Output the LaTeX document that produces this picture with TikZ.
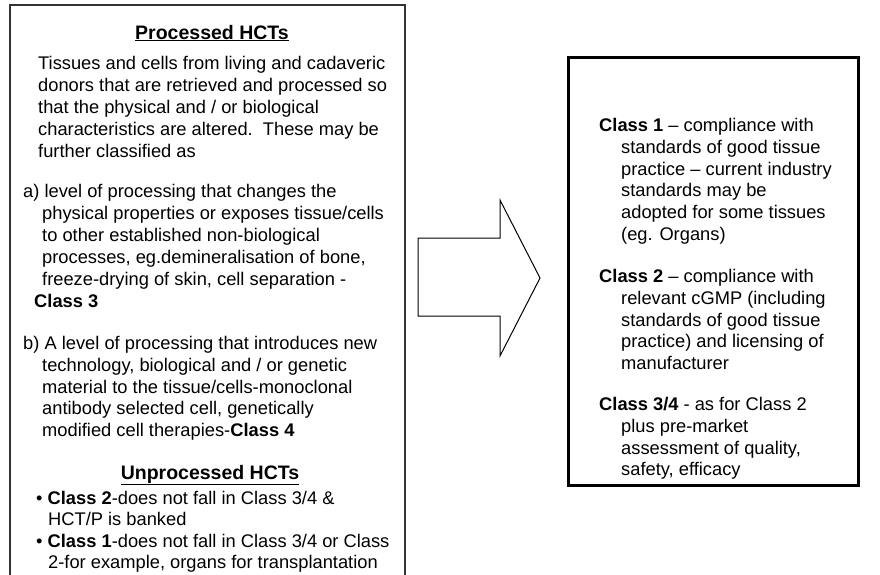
\documentclass[tikz,border=0pt]{standalone}
\usepackage{fontspec}
\setmainfont{Liberation Sans}
\begin{document}
\begin{tikzpicture}[x=1pt,y=-1pt,
  txt/.style={anchor=base west, inner sep=0pt, font=\fontsize{18.3}{22}\selectfont},
  heading/.style={anchor=base, inner sep=0pt, font=\fontsize{19.5}{24}\selectfont\bfseries},
  leftframe/.style={line width=1.2pt, draw=black!80},
  rightframe/.style={line width=3pt, draw=black},
  blockarrow/.style={line width=1pt, draw=black, fill=white, line join=miter}
  ]
\useasboundingbox (0,0) rectangle (880,574);

% left panel: open at the bottom
\draw[leftframe] (10,580) -- (10,5) -- (405,5) -- (405,580);

\node[heading] (h1) at (212,39) {\underline{Processed HCTs}};
\node[txt] (p1) at (38,69)  {Tissues and cells from living and cadaveric};
\node[txt] (p2) at (38,91)  {donors that are retrieved and processed so};
\node[txt] (p3) at (38,113) {that the physical and / or biological};
\node[txt] (p4) at (38,135) {characteristics are altered.\ \ These may be};
\node[txt] (p5) at (38,157) {further classified as};

\node[txt] (a1) at (23,197) {a) level of processing that changes the};
\node[txt] (a2) at (42,219) {physical properties or exposes tissue/cells};
\node[txt] (a3) at (42,241) {to other established non-biological};
\node[txt] (a4) at (42,263) {processes, eg.demineralisation of bone,};
\node[txt] (a5) at (42,285) {freeze-drying of skin, cell separation -};
\node[txt] (a6) at (34,307) {\bfseries Class 3};

\node[txt] (b1) at (23,349) {b) A level of processing that introduces new};
\node[txt] (b2) at (42,371) {technology, biological and / or genetic};
\node[txt] (b3) at (42,393) {material to the tissue/cells-monoclonal};
\node[txt] (b4) at (42,414) {antibody selected cell, genetically};
\node[txt] (b5) at (42,436) {modified cell therapies-\textbf{Class 4}};

\node[heading] (h2) at (210,479) {\underline{Unprocessed HCTs}};
\node[txt] (u1) at (36,504) {•\ \textbf{Class 2}-does not fall in Class 3/4 \&};
\node[txt] (u2) at (48,525) {HCT/P is banked};
\node[txt] (u3) at (36,547) {•\ \textbf{Class 1}-does not fall in Class 3/4 or Class};
\node[txt] (u4) at (48,568) {2-for example, organs for transplantation};

% block arrow between the panels
\draw[blockarrow] (418,238) -- (500,238) -- (500,200) -- (540,278)
  -- (500,356) -- (500,316) -- (418,316) -- cycle;

% right panel
\draw[rightframe] (568,57) rectangle (858,485);

\node[txt] (c1a) at (599,131) {\textbf{Class 1} – compliance with};
\node[txt] (c1b) at (621,153) {standards of good tissue};
\node[txt] (c1c) at (621,175) {practice – current industry};
\node[txt] (c1d) at (621,196) {standards may be};
\node[txt] (c1e) at (621,218) {adopted for some tissues};
\node[txt] (c1f) at (621,240) {(eg. Organs)};

\node[txt] (c2a) at (599,282) {\textbf{Class 2} – compliance with};
\node[txt] (c2b) at (621,304) {relevant cGMP (including};
\node[txt] (c2c) at (621,326) {standards of good tissue};
\node[txt] (c2d) at (621,347) {practice) and licensing of};
\node[txt] (c2e) at (621,369) {manufacturer};

\node[txt] (c3a) at (599,410) {\textbf{Class 3/4} - as for Class 2};
\node[txt] (c3b) at (621,432) {plus pre-market};
\node[txt] (c3c) at (621,454) {assessment of quality,};
\node[txt] (c3d) at (621,475) {safety, efficacy};
\end{tikzpicture}
\end{document}
